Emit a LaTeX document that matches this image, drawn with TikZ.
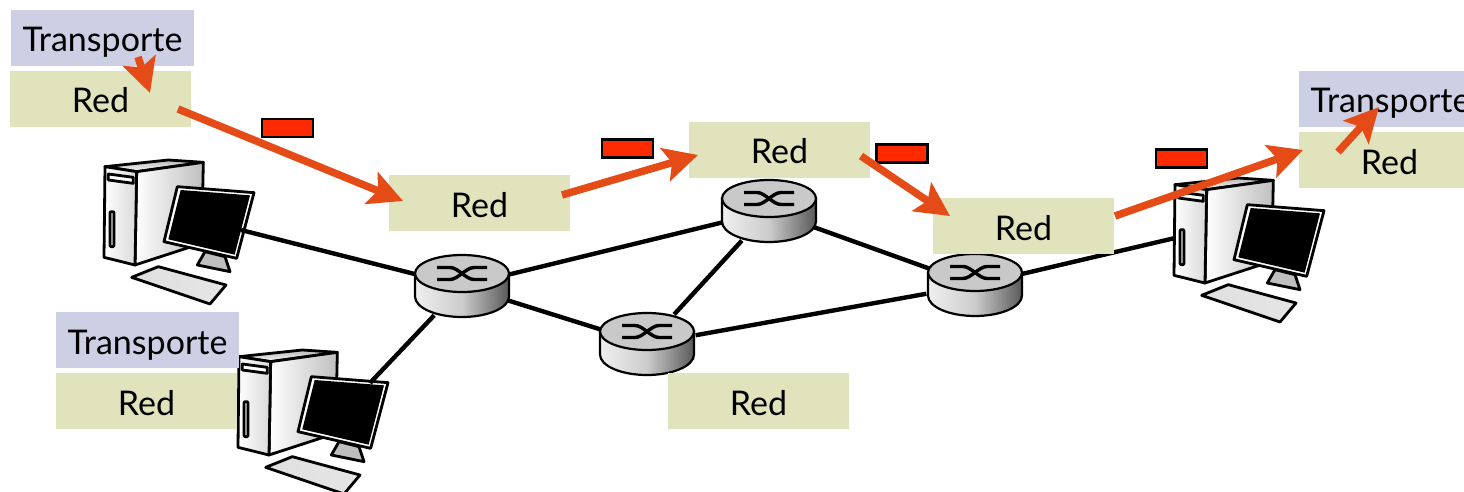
\documentclass[tikz,border=0pt]{standalone}
\usepackage{fontspec}
\setmainfont{Lato}
\usepackage{xcolor}
\usetikzlibrary{shapes.geometric, arrows.meta, positioning}

\definecolor{transcol}{HTML}{CDCFE4}
\definecolor{redcol}{HTML}{E1E3BC}
\definecolor{arrowcol}{HTML}{E54B17}
\definecolor{packetcol}{HTML}{FF2A00}

% Host: coordinates are in thirds of a pixel
\tikzset{
  computer/.pic={
    \begin{scope}[scale=1/3, line join=round, line width=2.8pt]
      \draw[left color=gray!55, right color=gray!5, shading angle=0] (45,50) -- (235,30) -- (340,37) -- (140,65) -- cycle;
      \draw[left color=white, right color=gray!50] (140,65) -- (340,37) -- (335,280) -- (135,345) -- cycle;
      \draw[left color=white, right color=gray!30] (45,50) -- (140,65) -- (135,345) -- (42,322) -- cycle;
      \draw[fill=white] (55,72) -- (130,82) -- (130,100) -- (55,90) -- cycle;
      \draw[fill=gray!25, rounded corners=1pt] (60,185) -- (72,185) -- (72,290) -- (60,290) -- cycle;
      \draw[fill=gray!50] (345,305) -- (322,345) -- (420,365) -- (405,320) -- cycle;
      \draw[fill=white] (262,110) -- (492,128) -- (440,325) -- (222,275) -- cycle;
      \fill[black] (272,120) -- (480,136) -- (434,314) -- (235,268) -- cycle;
      \draw[left color=gray!25, right color=gray!20] (205,350) -- (408,405) -- (360,462) -- (125,382) -- cycle;
    \end{scope}
  },
  router/.pic={
    \draw[line width=2.2pt, left color=gray!12, right color=black!65, middle color=gray!40]
      (-47,0) -- (-47,23) arc[start angle=180, end angle=0, x radius=47, y radius=20.5] -- (47,0) -- cycle;
    \draw[line width=2.2pt, fill=gray!42] (0,0) ellipse [x radius=47, y radius=18.5];
    \draw[line width=3.4pt] (-25,-6) -- (-12,-6) .. controls (-4,-6) and (4,6) .. (12,6) -- (25,6);
    \draw[line width=3.4pt] (-25,6) -- (-12,6) .. controls (-4,6) and (4,-6) .. (12,-6) -- (25,-6);
  }
}

\begin{document}
\begin{tikzpicture}[x=1pt, y=-1pt]
\tikzstyle{trans} = [rectangle, fill=transcol, minimum width=183pt, minimum height=56pt, inner sep=0pt, text height=28pt, text depth=0pt, font=\fontsize{34}{38}\selectfont]
\tikzstyle{net} = [rectangle, fill=redcol, minimum width=181pt, minimum height=56pt, inner sep=0pt, text height=28pt, text depth=0pt, font=\fontsize{34}{38}\selectfont]
\tikzstyle{packet} = [rectangle, draw=black, line width=2.4pt, fill=packetcol, minimum width=51pt, minimum height=18pt, inner sep=0pt]
\tikzstyle{routerbox} = [ellipse, minimum width=100pt, minimum height=70pt, inner sep=0pt]
\tikzstyle{link} = [line width=4.4pt]
\tikzstyle{arrow} = [-{Stealth[length=34pt, width=34pt, inset=7pt]}, arrowcol, line width=7.5pt]
\useasboundingbox (0,0) rectangle (1464,492);

% Hosts
\pic at (90,150) {computer};
\pic at (224,340) {computer};
\pic at (1160,168) {computer};
\coordinate (pc1) at (241,230);
\coordinate (pc2) at (370,383);
\coordinate (pc3) at (1175,238);

% Routers
\node[routerbox] (r1) at (462,286) {};
\node[routerbox] (r2) at (769,211) {};
\node[routerbox] (r3) at (647,344) {};
\node[routerbox] (r4) at (975,285) {};

% Links
\draw[link] (pc1) -- (r1);
\draw[link] (pc2) -- (r1);
\draw[link] (r1) -- (r2);
\draw[link] (r1) -- (r3);
\draw[link] (r3) -- (r2);
\draw[link] (r3) -- (r4);
\draw[link] (r2) -- (r4);
\draw[link] (r4) -- (pc3);

\pic at (462,273.5) {router};
\pic at (769,198.5) {router};
\pic at (647,331.5) {router};
\pic at (975,272.5) {router};

% Layers
\node[trans] (tsend) at (102.5,38) {Transporte};
\node[net] (nsend) at (100.5,99) {Red};
\node[net] (n1) at (479.5,203) {Red};
\node[net] (n2) at (779.5,150) {Red};
\node[net] (n3) at (1023.5,226) {Red};
\node[net] (n4) at (758.5,401) {Red};
\node[trans] (tother) at (147.5,340) {Transporte};
\node[net] (nother) at (146.5,401) {Red};
\node[trans] (trecv) at (1390.5,99) {Transporte};
\node[net] (nrecv) at (1389.5,160) {Red};

% Packets
\node[packet] (p1) at (287.5,128) {};
\node[packet] (p2) at (627.5,148.5) {};
\node[packet] (p3) at (902,153.5) {};
\node[packet] (p4) at (1181.5,158.5) {};

% Path of the data
\coordinate (a1s) at (138,57);
\coordinate (a1e) at (150,93);
\coordinate (a2s) at (178,109);
\coordinate (a2e) at (403,201);
\coordinate (a3s) at (562,195);
\coordinate (a3e) at (698,155);
\coordinate (a4s) at (861,156);
\coordinate (a4e) at (950,216);
\coordinate (a5s) at (1115,216);
\coordinate (a5e) at (1303,150);
\coordinate (a6s) at (1338,152);
\coordinate (a6e) at (1379,107);
\draw[arrow] (a1s) -- (a1e);
\draw[arrow] (a2s) -- (a2e);
\draw[arrow] (a3s) -- (a3e);
\draw[arrow] (a4s) -- (a4e);
\draw[arrow] (a5s) -- (a5e);
\draw[arrow] (a6s) -- (a6e);
\end{tikzpicture}
\end{document}
